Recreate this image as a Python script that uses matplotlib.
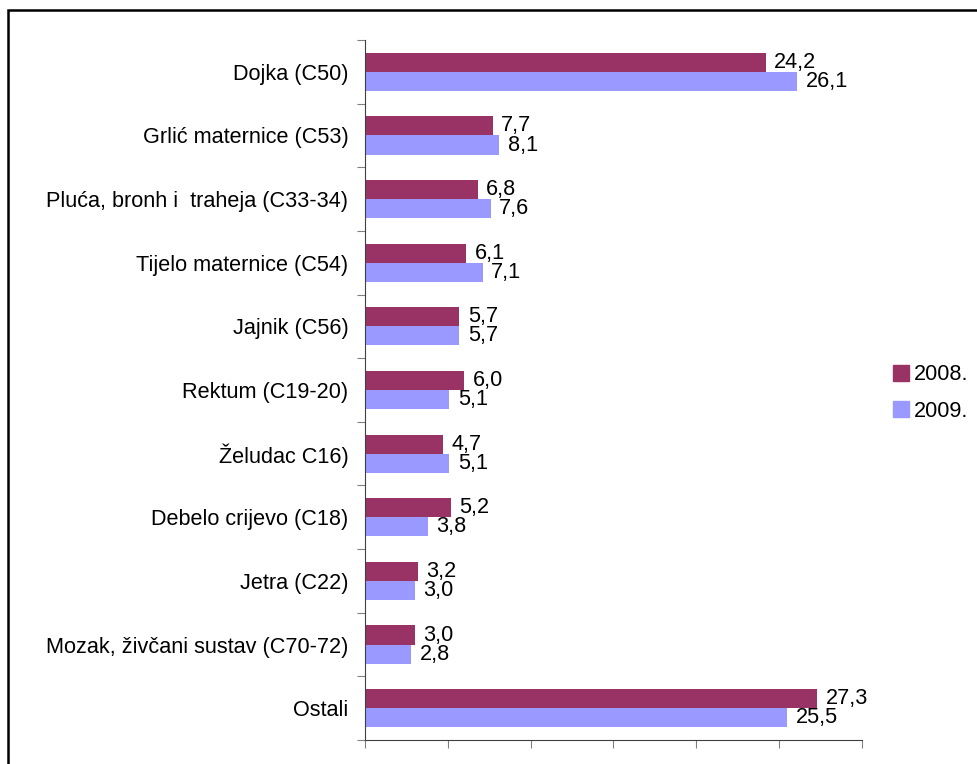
import numpy as np
import matplotlib
matplotlib.use("Agg")
import matplotlib.pyplot as plt
from matplotlib.patches import Rectangle, Patch

plt.rcParams['font.family'] = ['Liberation Sans', 'DejaVu Sans']

## Data
categories = ["Dojka (C50)", "Grlić maternice (C53)", "Pluća, bronh i  traheja (C33-34)",
              "Tijelo maternice (C54)", "Jajnik (C56)", "Rektum (C19-20)", "Želudac C16)",
              "Debelo crijevo (C18)", "Jetra (C22)", "Mozak, živčani sustav (C70-72)", "Ostali"]
vals_2008 = [24.2, 7.7, 6.8, 6.1, 5.7, 6.0, 4.7, 5.2, 3.2, 3.0, 27.3]
vals_2009 = [26.1, 8.1, 7.6, 7.1, 5.7, 5.1, 5.1, 3.8, 3.0, 2.8, 25.5]
series_names = ["2008.", "2009."]
colors = ["#993366", "#9999FF"]

FS = 15.6

def fmt(v): # decimal comma
    return ("%.1f" % v).replace('.', ',')

fig = plt.figure(figsize=(9.78, 7.64), dpi=100)
ax = fig.add_axes([365/978, 1-740/764, 497/978, 700/764])

y = np.arange(len(categories))
h = 0.3
b1 = ax.barh(y - h/2, vals_2008, height=h, color=colors[0])
b2 = ax.barh(y + h/2, vals_2009, height=h, color=colors[1])
ax.bar_label(b1, labels=[fmt(v) for v in vals_2008], padding=6, fontsize=FS)
ax.bar_label(b2, labels=[fmt(v) for v in vals_2009], padding=6, fontsize=FS)

ax.set_xlim(0, 30)
ax.set_ylim(len(categories) - 0.5, -0.5)
ax.set_xticks(np.arange(0, 31, 5))
ax.set_xticklabels([])
ax.set_yticks(np.arange(-0.5, len(categories), 1))
ax.set_yticklabels([])
ax.set_yticks(y, minor=True)
ax.set_yticklabels(categories, minor=True, fontsize=FS)
ax.tick_params(axis='y', which='minor', length=0, pad=12)
ax.tick_params(axis='both', which='major', length=6, color='#808080', direction='out')

for s in ['top', 'right']:
    ax.spines[s].set_visible(False)
for s in ['left', 'bottom']:
    ax.spines[s].set_color('#404040')

handles = [Patch(color=c) for c in colors]
fig.legend(handles, series_names, loc='center left', bbox_to_anchor=(893/978, 1-393/764),
           frameon=False, fontsize=FS, handlelength=0.72, handleheight=0.72,
           handletextpad=0.25, labelspacing=0.7, borderpad=0, borderaxespad=0)

# outer frame of the chart
fig.patches.append(Rectangle((8/978, -0.1), 1.2, 1-10/764+0.1, transform=fig.transFigure,
                             fill=False, lw=1.8, ec='black'))

fig.savefig("out.png", dpi=100)
